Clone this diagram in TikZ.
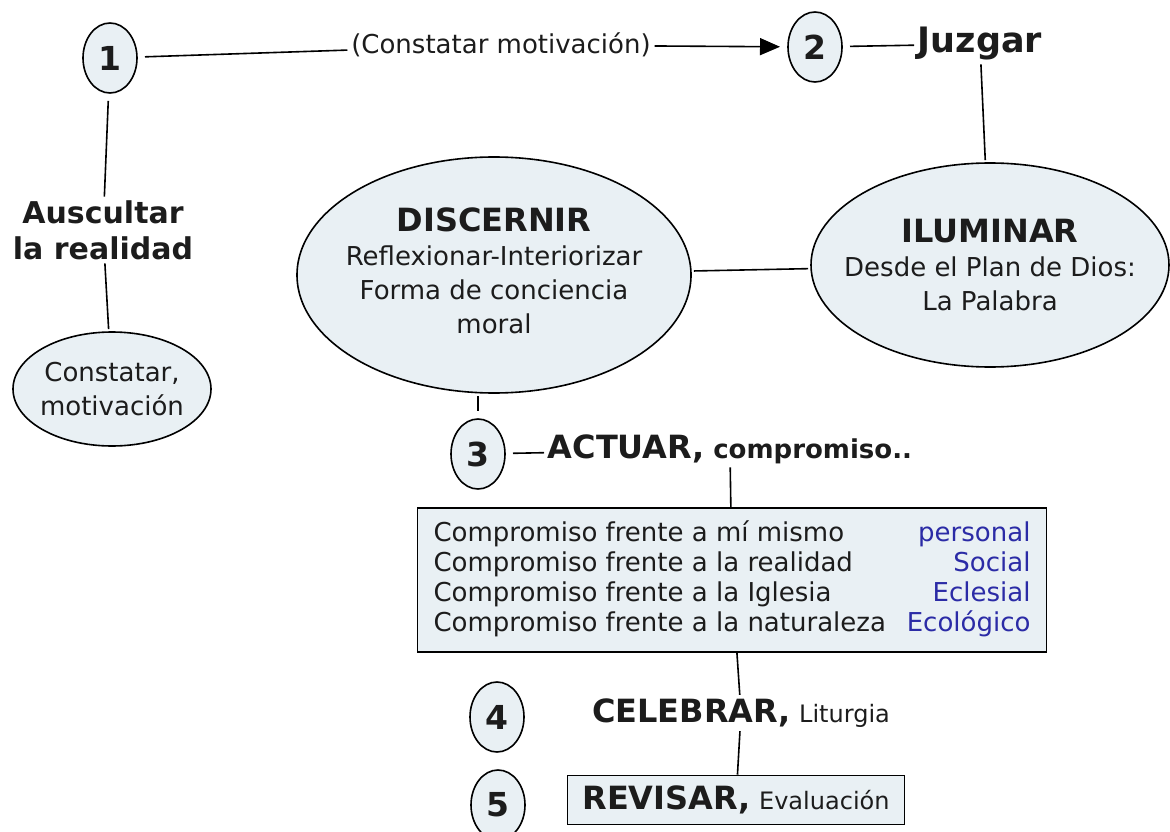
\documentclass[tikz,border=0pt]{standalone}
\usepackage{fontspec}
\setmainfont{DejaVu Sans}
\usetikzlibrary{arrows.meta,positioning,shapes.geometric}
\definecolor{bubble}{HTML}{E9F0F4}
\definecolor{tagblue}{HTML}{2B2BA6}
\definecolor{ink}{HTML}{1C1C1C}
\newcommand{\hd}{\fontsize{32}{36}\selectfont\bfseries}
\newcommand{\sm}{\fontsize{24}{28}\selectfont}

\begin{document}
\begin{tikzpicture}[x=1pt,y=-1pt,line width=1.6pt,text=ink,
                    font=\fontsize{26}{34}\selectfont]
  \tikzstyle{num}=[ellipse,draw,fill=bubble,minimum width=54pt,minimum height=70pt,
                   inner sep=0pt,outer sep=8pt,font=\fontsize{33}{33}\selectfont\bfseries]
  \tikzstyle{blob}=[ellipse,draw,fill=bubble,inner sep=0pt,outer sep=3pt]
  \tikzstyle{panel}=[rectangle,draw,fill=bubble,inner sep=0pt]
  \tikzstyle{word}=[inner sep=3pt,align=center]
  \useasboundingbox (0,0) rectangle (1170,832);

  % top row
  \node[num]  (n1)     at (110,58)  {1};
  \node[word] (motiv)  at (501,45)  {(Constatar motivación)};
  \node[num]  (n2)     at (815,47)  {2};
  \node[word,font=\fontsize{35}{36}\selectfont\bfseries] (juzgar) at (980,44) {Juzgar};

  % left column
  \node[word,font=\fontsize{30}{36}\selectfont\bfseries] (ausc) at (103,230) {Auscultar\\la realidad};
  \node[blob,minimum width=198pt,minimum height=114pt] (const) at (112,389) {};
  \node[word] at (const.center) {Constatar,\\motivación};

  % the two ellipses
  \node[blob,minimum width=394pt,minimum height=236pt] (disc) at (494,275) {};
  \node[word] at ([yshift=4pt]disc.center) {{\hd DISCERNIR}\\Reflexionar-Interiorizar\\Forma de conciencia\\moral};
  \node[blob,minimum width=358pt,minimum height=204pt] (ilum) at (990,265) {};
  \node[word] at (ilum.center) {{\hd ILUMINAR}\\Desde el Plan de Dios:\\La Palabra};

  % steps 3 to 5
  \node[num]  (n3)     at (478,454) {3};
  \node[word,anchor=west] (actuar) at (544,449) {{\hd ACTUAR,} {\fontsize{26}{30}\selectfont\bfseries compromiso..}};
  \node[panel,minimum width=629pt,minimum height=144pt] (compro) at (732,580)
    {\fontsize{26}{30}\selectfont
     \begin{tabular*}{597pt}{@{}l@{\extracolsep{\fill}}r@{}}
       Compromiso frente a mí mismo      & \textcolor{tagblue}{personal}\\
       Compromiso frente a la realidad   & \textcolor{tagblue}{Social}\\
       Compromiso frente a la Iglesia    & \textcolor{tagblue}{Eclesial}\\
       Compromiso frente a la naturaleza & \textcolor{tagblue}{Ecológico}
     \end{tabular*}};
  \node[num]  (n4)     at (497,717) {4};
  \node[word] (celeb)  at (741,713) {{\hd CELEBRAR,} {\sm Liturgia}};
  \node[num]  (n5)     at (498,805) {5};
  \node[panel,minimum width=337pt,minimum height=49pt] (revis) at (736,800)
    {{\hd REVISAR,} {\sm Evaluación}};

  \draw (n1) -- (motiv);
  \draw[-{Triangle[length=20pt,width=17pt]}] (motiv) -- (n2);
  \draw (n2) -- (juzgar);
  \draw (juzgar) -- (ilum);
  \draw (disc) -- (ilum);
  \draw (n1) -- (ausc);
  \draw (ausc) -- (const);
  \draw (n3 |- disc.south) -- (n3);
  \draw (n3) -- (actuar);
  \draw (actuar) -- (compro);
  \draw (compro) -- (celeb);
  \draw (celeb) -- (revis);
\end{tikzpicture}
\end{document}
